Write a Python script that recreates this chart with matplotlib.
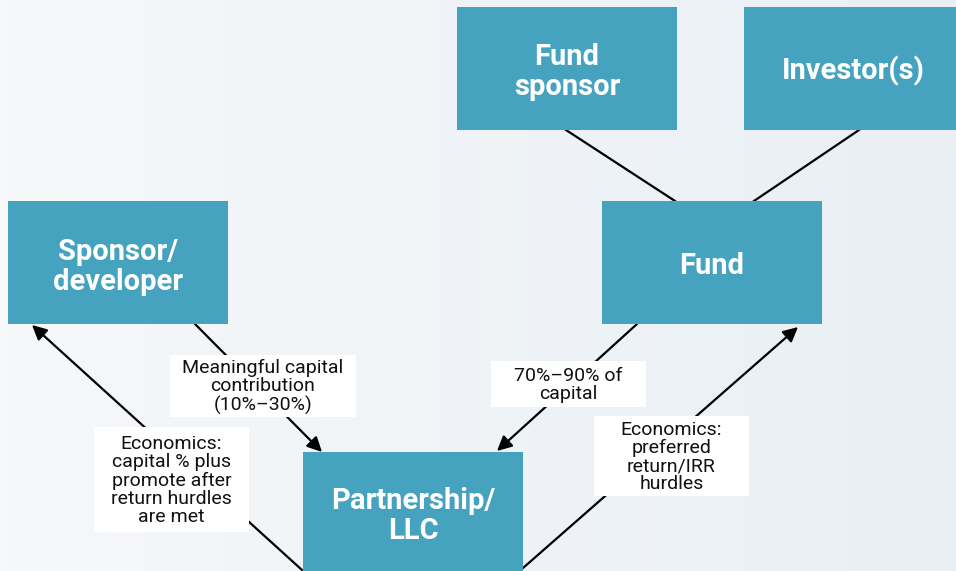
import numpy as np
import matplotlib.pyplot as plt
from matplotlib.patches import Rectangle, FancyArrowPatch
from matplotlib.colors import LinearSegmentedColormap

# node labels and their boxes (pixel coords, y down)
node_labels = ["Fund\nsponsor", "Investor(s)", "Fund", "Sponsor/\ndeveloper", "Partnership/\nLLC"]
node_boxes = [(457, 7, 220, 123), (744, 7, 230, 123), (602, 201, 220, 123),
              (8, 201, 220, 123), (303, 452, 220, 140)]
node_text_y = [72, 71, 266, 267, 516]

# plain connector lines
lines = [((566, 130), (675, 201)), ((859, 130), (754, 201))]

# arrows: start -> tip
arrows = [((195, 324), (322, 452)),
          ((302, 570), (32, 325)),
          ((637, 324), (497, 451)),
          ((523, 568), (798, 327))]

notes = ["Meaningful capital\ncontribution\n(10%\u201330%)",
         "Economics:\ncapital % plus\npromote after\nreturn hurdles\nare met",
         "70%\u201390% of\ncapital",
         "Economics:\npreferred\nreturn/IRR\nhurdles"]
note_boxes = [(170, 355, 186, 62), (94, 427, 155, 105), (491, 361, 155, 46), (594, 416, 155, 80)]

box_color = "#46a3bf"

fig = plt.figure(figsize=(9.56, 5.71), dpi=100)
ax = fig.add_axes([0, 0, 1, 1])
ax.set_xlim(0, 956)
ax.set_ylim(571, 0)
ax.axis("off")

# background gradient
grad = np.linspace(0, 1, 256).reshape(1, -1)
cmap = LinearSegmentedColormap.from_list("bg", ["#f6f8fa", "#e9eff4"])
ax.imshow(grad, cmap=cmap, extent=[0, 956, 571, 0], aspect="auto", zorder=0)

for (p0, p1) in lines:
    ax.plot([p0[0], p1[0]], [p0[1], p1[1]], color="black", lw=1.6, zorder=1)

for (p0, p1) in arrows:
    ax.add_patch(FancyArrowPatch(p0, p1, arrowstyle="-|>", mutation_scale=22,
                                 color="black", lw=1.6, shrinkA=0, shrinkB=0, zorder=1))

for label, (x, y, w, h), ty in zip(node_labels, node_boxes, node_text_y):
    ax.add_patch(Rectangle((x, y), w, h, facecolor=box_color, edgecolor="none", zorder=2))
    cx = x + 110 if label != "Investor(s)" else 853
    ax.text(cx, ty, label, color="white", fontsize=21, fontweight="bold",
            family="Roboto", ha="center", va="center", linespacing=1.12, zorder=3)

for note, (x, y, w, h) in zip(notes, note_boxes):
    ax.add_patch(Rectangle((x, y), w, h, facecolor="white", edgecolor="none", zorder=2))
    ax.text(x + w / 2, y + h / 2 + 1, note, color="#111111", fontsize=14,
            family="Roboto", ha="center", va="center", linespacing=1.02, zorder=3)

fig.savefig("out.png", dpi=100)
